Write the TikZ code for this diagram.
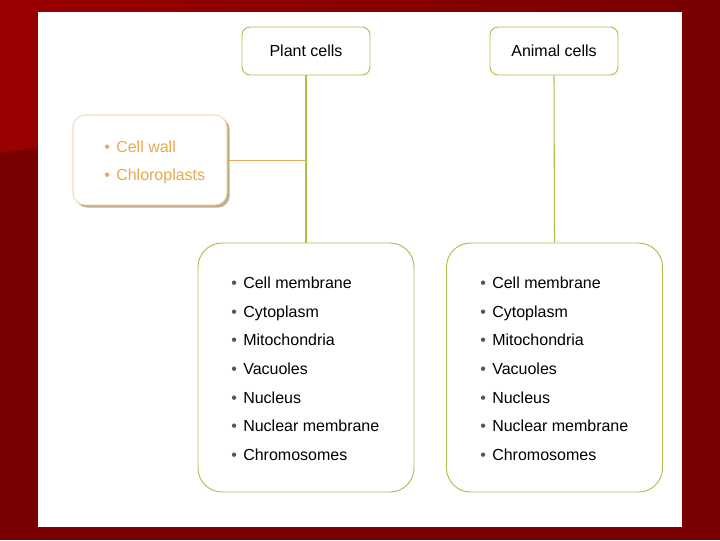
\documentclass[tikz,border=0pt]{standalone}
\usepackage{fontspec}
\setmainfont{Liberation Sans}
\usetikzlibrary{shadows}
\definecolor{slidered}{HTML}{780000}
\definecolor{brightred}{HTML}{9A0000}
\definecolor{leafgreen}{HTML}{A8C24A}
\definecolor{peel}{HTML}{E9A94E}
\definecolor{dotgray}{HTML}{555555}
\begin{document}
\begin{tikzpicture}[x=0.75pt,y=-0.75pt,
  cellbox/.style={draw=leafgreen,fill=white,line width=0.7pt},
  headbox/.style={cellbox,rounded corners=6pt,minimum width=96pt,minimum height=36pt,font=\fontsize{12}{14}\selectfont},
  listbox/.style={cellbox,rounded corners=18pt,minimum width=162pt,minimum height=186.75pt},
  item/.style={anchor=base west,inner sep=0pt,font=\fontsize{12}{14}\selectfont}]
\useasboundingbox (0,0) rectangle (720,540);
% slide background
\fill[slidered] (0,0) rectangle (720,540);
\shade[left color=brightred,right color=slidered] (0,0) -- (720,0) -- (720,12) -- (38,12) -- (38,148) -- (0,153) -- cycle;
\fill[white] (38,12) rectangle (682,527);
% headings
\node[headbox] (plant) at (306,51) {Plant cells};
\node[headbox] (animal) at (554,51) {Animal cells};
% lists
\node[listbox] (plantlist) at (306,367.5) {};
\node[listbox] (animallist) at (554.5,367.5) {};
\node[draw=peel!70,fill=white,rounded corners=9pt,minimum width=115.5pt,minimum height=67.5pt,
  drop shadow={shadow xshift=2pt,shadow yshift=-2pt,fill=black!45!peel}] (extra) at (150,160) {};
\foreach \txt [count=\i] in {Cell wall,Chloroplasts}
  \node[item,text=peel] (extra\i) at (104,{152+28*(\i-1)}) {\makebox[9pt][l]{\textbullet}\txt};
\foreach \txt [count=\i] in {Cell membrane,Cytoplasm,Mitochondria,Vacuoles,Nucleus,Nuclear membrane,Chromosomes}{
  \node[item] (plant\i) at (231,{288.5+28.67*(\i-1)}) {\makebox[9pt][l]{\color{dotgray}\textbullet}\txt};
  \node[item] (animal\i) at (480,{288.5+28.67*(\i-1)}) {\makebox[9pt][l]{\color{dotgray}\textbullet}\txt};
}
% connectors
\draw[leafgreen,line width=1.4pt] (plant.south) -- (plantlist.north);
\draw[leafgreen,line width=0.8pt] (animal.south) -- (animallist.north);
\draw[peel,line width=0.6pt] (extra.east) -- (extra.east -| plant.south);
\end{tikzpicture}
\end{document}
